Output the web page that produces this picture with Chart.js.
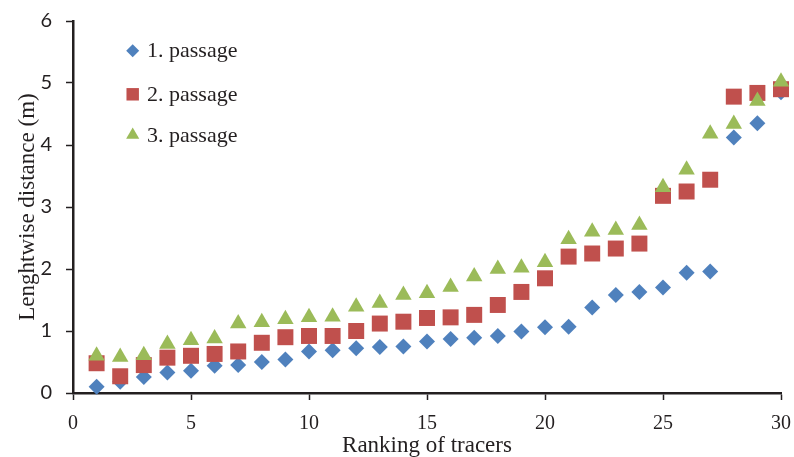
<!DOCTYPE html>
<html>
<head>
<meta charset="utf-8">
<script src="https://cdn.jsdelivr.net/npm/chart.js@4/dist/chart.umd.min.js"></script>
<style>
  html, body { margin: 0; padding: 0; background: #fff; }
  #wrap { width: 794px; height: 457px; }
</style>
</head>
<body>
<div id="wrap"><canvas id="tracerChart" width="794" height="457"></canvas></div>
<script>
// ranking of tracers (x) and lengthwise distance in m (y) for each passage
var ranks = [1, 2, 3, 4, 5, 6, 7, 8, 9, 10, 11, 12, 13, 14, 15, 16, 17, 18, 19, 20, 21, 22, 23, 24, 25, 26, 27, 28, 29, 30];
var passage1 = [0.10, 0.18, 0.26, 0.33, 0.36, 0.44, 0.45, 0.50, 0.54, 0.67, 0.69, 0.72, 0.74, 0.75, 0.83, 0.87, 0.89, 0.92, 0.99, 1.06, 1.07, 1.38, 1.58, 1.63, 1.70, 1.94, 1.96, 4.12, 4.35, 4.85];
var passage2 = [0.48, 0.27, 0.45, 0.57, 0.60, 0.63, 0.67, 0.81, 0.90, 0.92, 0.92, 1.00, 1.12, 1.15, 1.21, 1.22, 1.26, 1.42, 1.63, 1.85, 2.20, 2.25, 2.33, 2.41, 3.18, 3.25, 3.44, 4.78, 4.84, 4.90];
var passage3 = [0.60, 0.58, 0.61, 0.79, 0.85, 0.88, 1.12, 1.14, 1.19, 1.22, 1.23, 1.39, 1.45, 1.58, 1.61, 1.71, 1.88, 2.00, 2.02, 2.11, 2.48, 2.60, 2.63, 2.71, 3.32, 3.60, 4.18, 4.34, 4.71, 5.02];
var seriesNames = ['1. passage', '2. passage', '3. passage'];
var xTicks = [0, 5, 10, 15, 20, 25, 30];
var yTicks = [0, 1, 2, 3, 4, 5, 6];

var ink = '#231f20';

function toPoints(values) {
    return values.map(function (v, i) { return {x: ranks[i], y: v}; });
}

// legend drawn inside the plot, top left, one item per row
var insideLegend = {
    id: 'insideLegend',
    afterDraw: function (chart) {
        var ctx = chart.ctx;
        var rows = [50.7, 94.3, 135];
        var sizes = [6.5, 8.8, 7.6];
        ctx.save();
        chart.data.datasets.forEach(function (ds, i) {
            ctx.fillStyle = ds.backgroundColor;
            ctx.strokeStyle = ds.backgroundColor;
            Chart.helpers.drawPoint(ctx, {pointStyle: ds.pointStyle, radius: sizes[i], rotation: 0, borderWidth: 0}, 132.7, rows[i]);
            ctx.fillStyle = ink;
            ctx.font = '22px "Liberation Serif"';
            ctx.textAlign = 'left';
            ctx.textBaseline = 'middle';
            ctx.fillText(ds.label, 147, rows[i] + 1);
        });
        ctx.restore();
    }
};

var ctx = document.getElementById('tracerChart').getContext('2d');
var chart = new Chart(ctx, {
    type: 'scatter',
    data: {
        datasets: [{
            label: seriesNames[0],
            data: toPoints(passage1),
            pointStyle: 'rectRot',
            pointRadius: 8,
            backgroundColor: '#4f81bd',
            borderWidth: 0,
            clip: false,
            order: 3
        }, {
            label: seriesNames[1],
            data: toPoints(passage2),
            pointStyle: 'rect',
            pointRadius: 11.3,
            backgroundColor: '#c0504d',
            borderWidth: 0,
            clip: false,
            order: 2
        }, {
            label: seriesNames[2],
            data: toPoints(passage3),
            pointStyle: 'triangle',
            pointRadius: 9.5,
            backgroundColor: '#9bbb59',
            borderWidth: 0,
            clip: false,
            order: 1
        }]
    },
    options: {
        responsive: false,
        animation: false,
        events: [],
        layout: {padding: {top: 21, right: 13, left: 0, bottom: 0}},
        plugins: {legend: {display: false}, tooltip: {enabled: false}},
        scales: {
            x: {
                type: 'linear',
                min: 0,
                max: 30,
                afterFit: function (scale) {
                    scale.height = 64;
                    scale.paddingLeft = 0;
                    scale.paddingRight = 0;
                },
                afterBuildTicks: function (scale) { scale.ticks = xTicks.map(function (v) { return {value: v}; }); },
                border: {display: true, color: ink, width: 2.5},
                grid: {drawOnChartArea: false, drawTicks: true, tickLength: 7, tickWidth: 1.5, color: ink},
                ticks: {color: ink, padding: 12, font: {family: 'Liberation Serif', size: 20}},
                title: {display: true, text: 'Ranking of tracers', color: ink, padding: {top: 0, bottom: 0},
                        font: {family: 'Liberation Serif', size: 23, lineHeight: 1.0}}
            },
            y: {
                min: 0,
                max: 6,
                afterFit: function (scale) {
                    scale.width = 73;
                    scale.paddingTop = 0;
                    scale.paddingBottom = 0;
                },
                afterBuildTicks: function (scale) { scale.ticks = yTicks.map(function (v) { return {value: v}; }); },
                border: {display: true, color: ink, width: 2.5},
                grid: {drawOnChartArea: false, drawTicks: true, tickLength: 7, tickWidth: 1.5, color: ink},
                ticks: {color: ink, padding: 14, font: {family: 'Lato', size: 20}},
                title: {display: true, text: 'Lenghtwise distance (m)', color: ink, padding: {top: 14, bottom: 0},
                        font: {family: 'Liberation Serif', size: 23}}
            }
        }
    },
    plugins: [insideLegend]
});
</script>
</body>
</html>
